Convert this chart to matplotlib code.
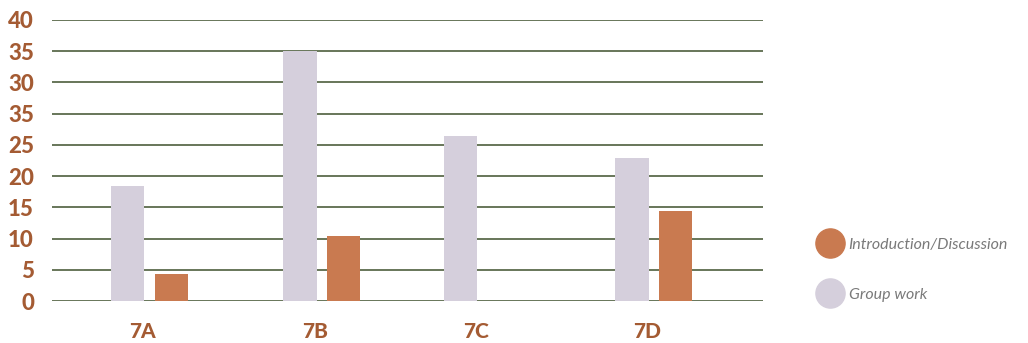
import numpy as np
import matplotlib
matplotlib.use('Agg')
import matplotlib.pyplot as plt
from matplotlib.lines import Line2D

# data (values in axis units, one grid step = 5)
classes = ['7A', '7B', '7C', '7D']
group_work = [18.4, 40.0, 26.4, 22.9]
intro_disc = [4.3, 10.4, 0.0, 14.4]
y_ticks = [0, 5, 10, 15, 20, 25, 30, 35, 40, 45]
y_labels = ['0', '5', '10', '15', '20', '25', '35', '30', '35', '40']

plt.rcParams['font.family'] = ['Lato', 'DejaVu Sans']

gray = '#D5CFDC'
orange = '#C97A50'
brown = '#A45B33'
grid_col = '#5C6B4C'

fig = plt.figure(figsize=(10.28, 3.43), dpi=100)
ax = fig.add_axes([52 / 1028, 42 / 343, 711 / 1028, 281 / 343])

x = np.array([0, 1.025, 1.98, 3.0])
w = 0.2
ax.bar(x - 0.13, group_work, w, color=gray, zorder=3)
ax.bar(x + 0.13, intro_disc, w, color=orange, zorder=3)

ax.set_xlim(-0.58, 3.65)
ax.set_ylim(0, 45)
ax.set_yticks(y_ticks)
ax.set_yticklabels(y_labels, fontsize=16, fontweight='black', color=brown)
ax.set_xticks(x - 0.04)
ax.set_xticklabels(classes, fontsize=15, fontweight='black', color=brown)
ax.tick_params(axis='both', length=0)
ax.tick_params(axis='y', pad=13)
ax.tick_params(axis='x', pad=15)

ax.grid(axis='y', color=grid_col, linewidth=1.3, zorder=0)
for s in ax.spines.values():
    s.set_visible(False)

handles = [
    Line2D([], [], marker='o', linestyle='none', markersize=21,
           markerfacecolor=orange, markeredgecolor=orange),
    Line2D([], [], marker='o', linestyle='none', markersize=21,
           markerfacecolor=gray, markeredgecolor=gray),
]
leg = fig.legend(handles, ['Introduction/Discussion', 'Group work'],
                 loc='upper left', bbox_to_anchor=(800 / 1028, 1 - 223 / 343),
                 frameon=False, labelspacing=2.25, handletextpad=0.15,
                 prop={'size': 11.5, 'style': 'italic'})
for t in leg.get_texts():
    t.set_color('#7A7A7A')

fig.savefig('out.png', dpi=100)
